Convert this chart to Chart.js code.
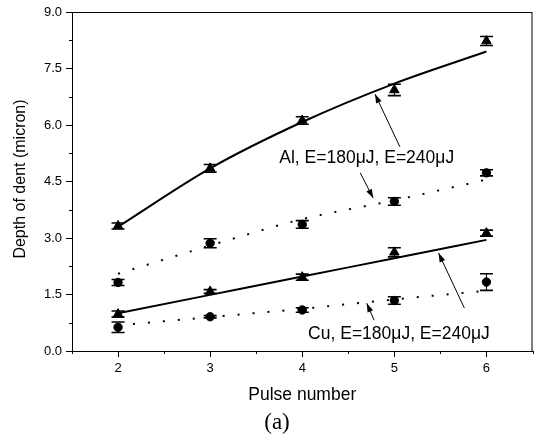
<!DOCTYPE html>
<html>
<head>
<meta charset="utf-8">
<script src="https://cdn.jsdelivr.net/npm/chart.js@4"></script>
<style>
html,body{margin:0;padding:0;background:#fff;}
canvas{display:block;}
</style>
</head>
<body>
<canvas id="c" width="539" height="437"></canvas>
<script>
// ---- data ----
const pulses = [2, 3, 4, 5, 6];
const al240 = [3.32, 4.85, 6.12, 6.93, 8.23];
const al240Err = [0.08, 0.1, 0.1, 0.15, 0.12];
const al180 = [1.82, 2.86, 3.36, 3.97, 4.73];
const al180Err = [0.08, 0.12, 0.1, 0.1, 0.08];
const cu240 = [0.98, 1.58, 1.96, 2.62, 3.13];
const cu240Err = [0.08, 0.05, 0.08, 0.12, 0.08];
const cu180 = [0.63, 0.91, 1.09, 1.34, 1.83];
const cu180Err = [0.14, 0.03, 0.06, 0.1, 0.22];
const al240Fit = [3.3, 4.85, 6.08, 7.1, 7.95];
const al180Fit = [2.05, 2.8, 3.5, 4.0, 4.55];
const cu240Fit = [1.0, 1.49, 1.98, 2.46, 2.95];
const cu180Fit = [0.68, 0.9, 1.12, 1.37, 1.6];
const yTicks = [0, 1.5, 3, 4.5, 6, 7.5, 9];
const xMinor = [1.5, 2.5, 3.5, 4.5, 5.5, 6.5];
const yMinor = [0.75, 2.25, 3.75, 5.25, 6.75, 8.25];
const labelAl = "Al, E=180\u03bcJ, E=240\u03bcJ";
const labelCu = "Cu, E=180\u03bcJ, E=240\u03bcJ";
const xTitle = "Pulse number";
const yTitle = "Depth of dent (micron)";
const caption = "(a)";

const pts = (ys) => pulses.map((x, i) => ({x: x, y: ys[i]}));
const FONT = '"Liberation Sans", Arial, sans-serif';

function pointSet(ys, style, r) {
  return {data: pts(ys), showLine: false, pointStyle: style, pointRadius: r,
    pointBackgroundColor: '#000', pointBorderColor: '#000', pointBorderWidth: 1, order: 0};
}
function fitSet(ys, dotted) {
  return {data: pts(ys), showLine: true, pointRadius: 0, borderColor: '#000',
    borderWidth: 2, borderDash: dotted ? [2, 13] : [],
    cubicInterpolationMode: 'monotone', fill: false, order: 1};
}

const errSets = [[al240, al240Err], [al180, al180Err], [cu240, cu240Err], [cu180, cu180Err]];

function arrow(ctx, x1, y1, x2, y2) {
  ctx.beginPath(); ctx.moveTo(x1, y1); ctx.lineTo(x2, y2); ctx.stroke();
  const a = Math.atan2(y2 - y1, x2 - x1), L = 9, W = 3;
  ctx.beginPath();
  ctx.moveTo(x2, y2);
  ctx.lineTo(x2 - L * Math.cos(a) + W * Math.sin(a), y2 - L * Math.sin(a) - W * Math.cos(a));
  ctx.lineTo(x2 - L * Math.cos(a) - W * Math.sin(a), y2 - L * Math.sin(a) + W * Math.cos(a));
  ctx.closePath(); ctx.fill();
}

const extras = {
  id: 'extras',
  afterDraw(chart) {
    const ctx = chart.ctx, xs = chart.scales.x, ys = chart.scales.y, ca = chart.chartArea;
    const X = v => xs.getPixelForValue(v), Y = v => ys.getPixelForValue(v);
    ctx.save();
    ctx.strokeStyle = '#000'; ctx.fillStyle = '#000'; ctx.lineWidth = 1;
    // frame
    ctx.strokeRect(ca.left + 0.5, ca.top + 0.5, ca.right - ca.left - 1, ca.bottom - ca.top);
    // minor ticks
    ctx.beginPath();
    xMinor.forEach(v => { const p = Math.round(X(v)) + 0.5; ctx.moveTo(p, ca.bottom); ctx.lineTo(p, ca.bottom + 3); });
    yMinor.forEach(v => { const p = Math.round(Y(v)) + 0.5; ctx.moveTo(ca.left, p); ctx.lineTo(ca.left - 3, p); });
    ctx.stroke();
    // error bars
    errSets.forEach(([vals, errs]) => {
      pulses.forEach((x, i) => {
        const px = X(x), top = Y(vals[i] + errs[i]), bot = Y(vals[i] - errs[i]);
        ctx.lineWidth = 1;
        ctx.beginPath();
        ctx.moveTo(px, top); ctx.lineTo(px, bot);
        ctx.stroke();
        ctx.lineWidth = 1.6;
        ctx.beginPath();
        ctx.moveTo(px - 6.5, top); ctx.lineTo(px + 6.5, top);
        ctx.moveTo(px - 6.5, bot); ctx.lineTo(px + 6.5, bot);
        ctx.stroke();
      });
    });
    // annotations
    ctx.font = '17.5px ' + FONT;
    ctx.textAlign = 'center'; ctx.textBaseline = 'middle';
    ctx.fillText(labelAl, X(4.70), Y(5.12));
    ctx.fillText(labelCu, X(5.05), Y(0.45));
    ctx.lineWidth = 1;
    arrow(ctx, X(5.06), Y(5.42), X(4.79), Y(6.82));
    arrow(ctx, X(4.63), Y(4.73), X(4.77), Y(4.06));
    arrow(ctx, X(5.76), Y(1.14), X(5.48), Y(2.60));
    arrow(ctx, X(4.78), Y(0.82), X(4.70), Y(1.27));
    // titles
    ctx.font = '17.5px ' + FONT;
    ctx.fillText(xTitle, (ca.left + ca.right) / 2, 395);
    ctx.save();
    ctx.font = '16px ' + FONT;
    ctx.translate(21, 179);
    ctx.rotate(-Math.PI / 2);
    ctx.fillText(yTitle, 0, 0);
    ctx.restore();
    ctx.font = '23px "Liberation Serif", "Times New Roman", serif';
    ctx.fillText(caption, 277, 423);
    ctx.restore();
  }
};

new Chart(document.getElementById('c'), {
  type: 'scatter',
  data: {
    datasets: [
      fitSet(al240Fit, false), fitSet(al180Fit, true), fitSet(cu240Fit, false), fitSet(cu180Fit, true),
      pointSet(al240, 'triangle', 5.5), pointSet(al180, 'circle', 4.2),
      pointSet(cu240, 'triangle', 5.5), pointSet(cu180, 'circle', 4.2)
    ]
  },
  options: {
    responsive: false, animation: false, devicePixelRatio: 1,
    layout: {padding: {left: 0, top: 12, right: 3, bottom: 0}},
    plugins: {legend: {display: false}, tooltip: {enabled: false}},
    scales: {
      x: {
        type: 'linear', min: 1.5, max: 6.5,
        afterBuildTicks: s => { s.ticks = pulses.map(v => ({value: v})); },
        afterFit: s => { s.height = 86; },
        ticks: {color: '#000', font: {family: FONT, size: 13}, padding: 4, callback: v => String(v)},
        grid: {drawOnChartArea: false, tickLength: 6, color: '#000', tickColor: '#000'},
        border: {color: '#000', width: 1}
      },
      y: {
        min: 0, max: 9,
        afterBuildTicks: s => { s.ticks = yTicks.map(v => ({value: v})); },
        afterFit: s => { s.width = 72; },
        ticks: {color: '#000', font: {family: FONT, size: 13}, padding: 4, callback: v => Number(v).toFixed(1)},
        grid: {drawOnChartArea: false, tickLength: 6, color: '#000', tickColor: '#000'},
        border: {color: '#000', width: 1}
      }
    }
  },
  plugins: [extras]
});
</script>
</body>
</html>
